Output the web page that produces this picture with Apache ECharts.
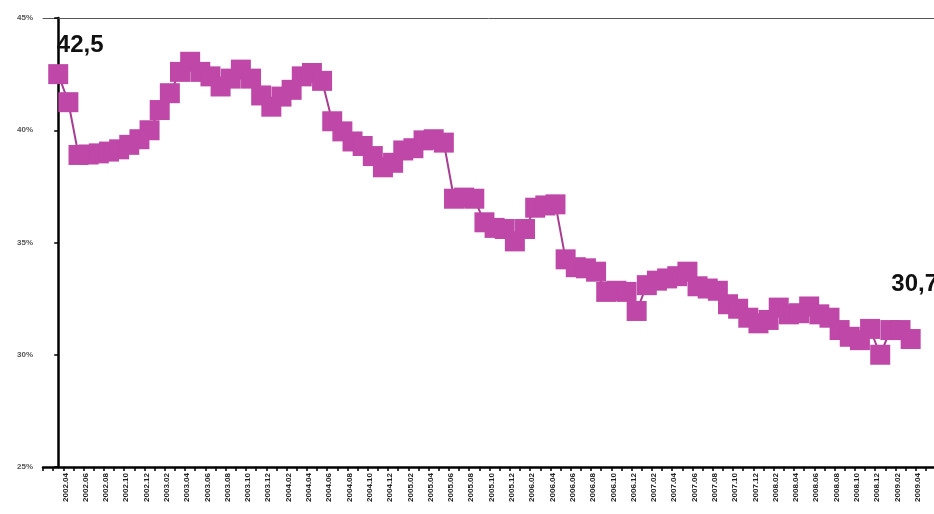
<!DOCTYPE html>
<html><head><meta charset="utf-8">
<script src="https://cdn.jsdelivr.net/npm/echarts@6/dist/echarts.min.js"></script>
<style>html,body{margin:0;padding:0;background:#fff}#c{width:934px;height:514px}</style>
</head><body><div id="c"></div>
<script>
const categories = [
'2002.04','2002.05','2002.06','2002.07','2002.08','2002.09','2002.10','2002.11','2002.12',
'2003.01','2003.02','2003.03','2003.04','2003.05','2003.06','2003.07','2003.08','2003.09','2003.10','2003.11','2003.12',
'2004.01','2004.02','2004.03','2004.04','2004.05','2004.06','2004.07','2004.08','2004.09','2004.10','2004.11','2004.12',
'2005.01','2005.02','2005.03','2005.04','2005.05','2005.06','2005.07','2005.08','2005.09','2005.10','2005.11','2005.12',
'2006.01','2006.02','2006.03','2006.04','2006.05','2006.06','2006.07','2006.08','2006.09','2006.10','2006.11','2006.12',
'2007.01','2007.02','2007.03','2007.04','2007.05','2007.06','2007.07','2007.08','2007.09','2007.10','2007.11','2007.12',
'2008.01','2008.02','2008.03','2008.04','2008.05','2008.06','2008.07','2008.08','2008.09','2008.10','2008.11','2008.12',
'2009.01','2009.02','2009.03','2009.04'
];
const shareValues = [
42.5,41.25,38.9,38.92,38.97,39.05,39.15,39.35,39.6,40.0,40.9,41.65,42.6,43.05,42.6,42.4,41.95,42.3,42.7,42.3,
41.55,41.05,41.5,41.8,42.4,42.55,42.2,40.4,39.95,39.5,39.3,38.85,38.35,38.55,39.1,39.2,39.55,39.6,39.45,36.95,
37.0,36.95,35.9,35.65,35.6,35.05,35.6,36.55,36.65,36.7,34.25,33.9,33.85,33.7,32.8,32.85,32.8,31.95,33.1,33.3,
33.4,33.5,33.7,33.05,32.95,32.85,32.25,32.05,31.65,31.4,31.55,32.1,31.8,31.85,32.15,31.8,31.65,31.1,30.8,30.65,
31.15,30.0,31.1,31.1,30.7
];
const yTicks = [25,30,35,40,45];
const startLabel = '42,5';
const endLabel = '30,7';

const n = shareValues.length;
const tickPos = [];
for (let k = -1.5; k <= n + 0.5; k += 1) tickPos.push(k);
const LABEL_SHIFT = 0.7;
const labelPos = [];
for (let i = 0; i < categories.length; i += 2) labelPos.push(i + LABEL_SHIFT);

const data = shareValues.map((v, i) => {
  const item = { value: [i, v] };
  if (i === 0) item.label = { show: true, formatter: startLabel, position: 'inside', offset: [22, -29] };
  if (i === n - 1) item.label = { show: true, formatter: endLabel, position: 'inside', offset: [4, -55] };
  return item;
});

const chart = echarts.init(document.getElementById('c'), null, { renderer: 'canvas' });
chart.setOption({
  animation: false,
  backgroundColor: '#ffffff',
  grid: { left: 43, right: 0, top: 18, bottom: 47, containLabel: false },
  xAxis: [{
    type: 'value', min: -1.5, max: 86.3,
    axisLine: { show: true, lineStyle: { color: '#000', width: 2.5 } },
    axisTick: { show: true, customValues: tickPos, length: 4, lineStyle: { color: '#000', width: 1.5 } },
    axisLabel: {
      show: true, customValues: labelPos, rotate: 90, fontSize: 8, color: '#222', fontWeight: 'bold',
      fontFamily: 'Liberation Sans, Arial, sans-serif', margin: 6,
      formatter: v => categories[Math.round(v - LABEL_SHIFT)] || ''
    },
    splitLine: { show: false }
  }, {
    type: 'value', position: 'top', min: -1.5, max: 86.3,
    axisLine: { show: true, onZero: false, lineStyle: { color: '#555', width: 1 } },
    axisTick: { show: false }, axisLabel: { show: false }, splitLine: { show: false }
  }],
  yAxis: {
    type: 'value', min: yTicks[0], max: yTicks[yTicks.length - 1], interval: 5,
    axisLine: { show: true, lineStyle: { color: '#000', width: 2.5 } },
    axisTick: { show: true, length: 4, lineStyle: { color: '#000', width: 1.5 } },
    axisLabel: { formatter: '{value}%', fontSize: 8, color: '#555', fontWeight: 'bold', margin: 10,
      fontFamily: 'Liberation Sans, Arial, sans-serif' },
    splitLine: { show: false }
  },
  series: [{
    type: 'line', xAxisIndex: 0, data: data,
    symbol: 'rect', symbolSize: 20,
    itemStyle: { color: '#bf47a8' },
    lineStyle: { color: '#a63d90', width: 2 },
    label: { show: false, fontSize: 24, fontWeight: 'bold', color: '#111',
      fontFamily: 'Liberation Sans, Arial, sans-serif' },
    emphasis: { disabled: true }
  }]
});
</script></body></html>
